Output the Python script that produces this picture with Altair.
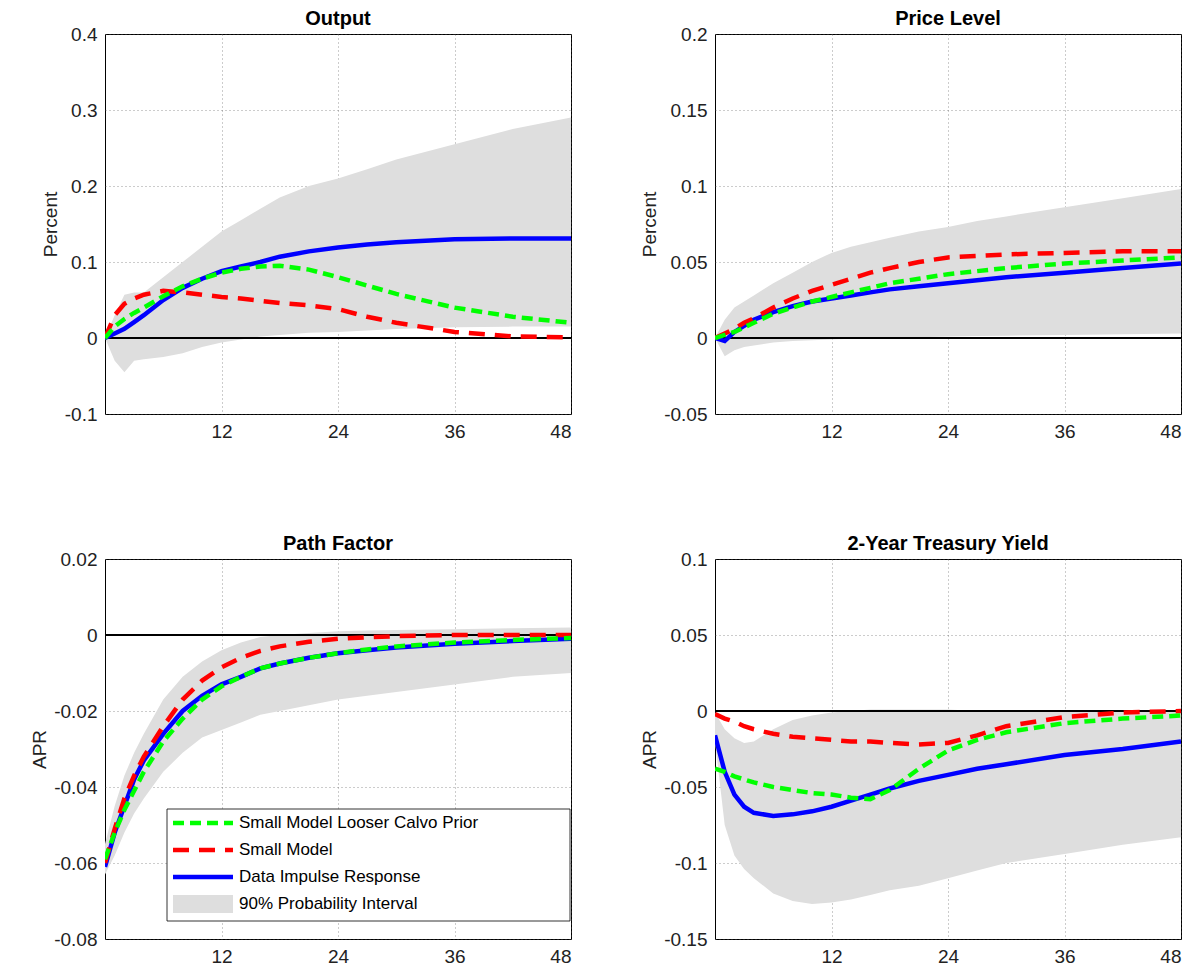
import pandas as pd
import altair as alt

X = [0, 1, 2, 3, 4, 6, 8, 10, 12, 14, 16, 18, 21, 24, 27, 30, 36, 42, 48]

out_blue = [0, .006, .012, .021, .03, .05, .066, .078, .088, .094, .1, .107, .114, .119, .123, .126, .13, .131, .131]
out_green = [0, .015, .025, .033, .04, .055, .068, .078, .086, .091, .094, .095, .09, .08, .069, .058, .04, .028, .02]
out_red = [0, .03, .045, .052, .057, .062, .06, .057, .054, .052, .049, .046, .043, .038, .028, .02, .008, .002, .001]
out_up = [0, .03, .057, .06, .06, .08, .1, .12, .14, .155, .17, .185, .2, .21, .222, .235, .255, .275, .29]
out_lo = [0, -.03, -.045, -.03, -.028, -.025, -.02, -.012, -.006, -.002, .002, .004, .007, .008, .01, .012, .014, .015, .015]

pl_blue = [0, -.002, .004, .008, .012, .017, .021, .024, .026, .028, .030, .032, .034, .036, .038, .04, .043, .046, .049]
pl_green = [0, .002, .004, .007, .01, .016, .02, .024, .027, .030, .033, .036, .039, .042, .044, .046, .049, .051, .053]
pl_red = [0, .003, .006, .01, .013, .02, .026, .031, .035, .039, .043, .046, .05, .053, .054, .055, .056, .057, .057]
pl_up = [0, .012, .02, .024, .028, .036, .043, .05, .056, .060, .063, .066, .07, .073, .077, .08, .086, .092, .098]
pl_lo = [0, -.012, -.008, -.006, -.005, -.003, -.002, -.0015, -.001, -.0005, 0, 0, .0005, .001, .0013, .0015, .002, .0025, .003]

pf_blue = [-.061, -.052, -.045, -.038, -.033, -.026, -.02, -.016, -.013, -.011, -.0088, -.0075, -.006, -.0048, -.004, -.0033, -.0023, -.0016, -.001]
pf_green = [-.059, -.052, -.046, -.041, -.036, -.028, -.022, -.017, -.0135, -.011, -.0088, -.0075, -.006, -.0048, -.0038, -.003, -.002, -.0013, -.0008]
pf_red = [-.06, -.051, -.043, -.037, -.032, -.024, -.017, -.012, -.0085, -.006, -.0042, -.003, -.0018, -.001, -.0006, -.0003, 0, 0, 0]
pf_up = [-.055, -.045, -.037, -.031, -.026, -.017, -.011, -.007, -.004, -.002, -.0005, 0, .0005, .001, .0012, .0013, .0015, .0018, .002]
pf_lo = [-.063, -.058, -.052, -.047, -.043, -.036, -.031, -.027, -.025, -.023, -.021, -.02, -.0185, -.017, -.016, -.015, -.013, -.011, -.01]

ty_blue = [-.016, -.04, -.055, -.063, -.067, -.069, -.068, -.066, -.063, -.059, -.055, -.051, -.046, -.042, -.038, -.035, -.029, -.025, -.02]
ty_green = [-.038, -.04, -.043, -.045, -.047, -.05, -.052, -.054, -.055, -.057, -.058, -.052, -.038, -.026, -.019, -.014, -.008, -.005, -.003]
ty_red = [-.002, -.005, -.007, -.01, -.012, -.015, -.017, -.018, -.019, -.02, -.02, -.021, -.022, -.021, -.016, -.01, -.004, -.001, 0]
ty_up = [-.001, -.012, -.018, -.021, -.02, -.012, -.006, -.003, -.001, 0, .001, .001, .001, .001, 0, 0, 0, 0, 0]
ty_lo = [-.02, -.075, -.095, -.104, -.11, -.12, -.125, -.127, -.126, -.124, -.121, -.118, -.115, -.11, -.105, -.1, -.094, -.088, -.083]

legend_labels = ["Small Model Looser Calvo Prior", "Small Model", "Data Impulse Response", "90% Probability Interval"]

FONT = "Liberation Sans"
W, H = 466, 380


def panel(title, ytitle, blue, green, red, up, lo, ydom, yticks, fmt, legend=False):
    df = pd.DataFrame({"x": X, "blue": blue, "green": green, "red": red, "up": up, "lo": lo})
    xs = alt.X("x:Q", scale=alt.Scale(domain=[0, 48], nice=False),
               axis=alt.Axis(values=[12, 24, 36, 48], title=None))
    ys = alt.Scale(domain=ydom, nice=False)
    yaxis = alt.Axis(values=yticks, format=fmt, title=ytitle,
                     labelExpr="replace(datum.label, '\u2212', '-')")
    base = alt.Chart(df)
    band = base.mark_area(color="#dedede", clip=True).encode(
        x=xs, y=alt.Y("lo:Q", scale=ys, axis=yaxis), y2="up:Q")
    zero = base.mark_rule(color="black", strokeWidth=0.6).encode(y=alt.datum(0))
    lb = base.mark_line(color="#0000ff", strokeWidth=4.5, clip=True).encode(x="x:Q", y="blue:Q")
    lr = base.mark_line(color="#ff0000", strokeWidth=4.5, strokeDash=[16, 10], clip=True).encode(x="x:Q", y="red:Q")
    lg = base.mark_line(color="#00ff00", strokeWidth=4.5, strokeDash=[11, 6], clip=True).encode(x="x:Q", y="green:Q")
    layers = [band, zero, lb, lr, lg]
    if legend:
        ldf = pd.DataFrame({"label": legend_labels, "i": [0, 1, 2, 3]})
        lb_ = alt.Chart(ldf)
        items = [lb_.transform_filter(alt.datum.i == 0).mark_rect(
            fill="white", stroke="black", strokeWidth=0.8).encode(
            x=alt.value(62), x2=alt.value(465), y=alt.value(250), y2=alt.value(362))]
        cols = ["#00ff00", "#ff0000", "#0000ff"]
        dashes = [[11, 6], [16, 10], [1, 0]]
        for i in range(4):
            sub = lb_.transform_filter(alt.datum.i == i)
            yy = 264 + 27 * i
            if i < 3:
                items.append(sub.mark_rule(color=cols[i], strokeWidth=4.5, strokeDash=dashes[i]).encode(
                    x=alt.value(68), x2=alt.value(128), y=alt.value(yy)))
            else:
                items.append(sub.mark_rect(color="#dedede").encode(
                    x=alt.value(68), x2=alt.value(128), y=alt.value(yy - 9), y2=alt.value(yy + 9)))
            items.append(sub.mark_text(align="left", baseline="middle", font=FONT, fontSize=17).encode(
                x=alt.value(134), y=alt.value(yy), text="label:N"))
        layers += items
    return alt.layer(*layers).properties(
        width=W, height=H,
        title=alt.TitleParams(title, font=FONT, fontSize=20, fontWeight="bold", offset=-4))


p1 = panel("Output", "Percent", out_blue, out_green, out_red, out_up, out_lo,
           [-0.1, 0.4], [-0.1, 0, 0.1, 0.2, 0.3, 0.4], ".1~f")
p2 = panel("Price Level", "Percent", pl_blue, pl_green, pl_red, pl_up, pl_lo,
           [-0.05, 0.2], [-0.05, 0, 0.05, 0.1, 0.15, 0.2], ".2~f")
p3 = panel("Path Factor", "APR", pf_blue, pf_green, pf_red, pf_up, pf_lo,
           [-0.08, 0.02], [-0.08, -0.06, -0.04, -0.02, 0, 0.02], ".2~f", legend=True)
p4 = panel("2-Year Treasury Yield", "APR", ty_blue, ty_green, ty_red, ty_up, ty_lo,
           [-0.15, 0.1], [-0.15, -0.1, -0.05, 0, 0.05, 0.1], ".2~f")

chart = alt.vconcat(
    alt.hconcat(p1, p2, spacing=68),
    alt.hconcat(p3, p4, spacing=68),
    spacing=91,
).properties(
    padding={"left": 22, "top": 0, "right": 0, "bottom": 0}
).configure_view(stroke="black", strokeWidth=1).configure_axis(
    grid=True, gridDash=[1, 3], gridColor="#555", gridOpacity=0.6,
    labelFont=FONT, labelFontSize=19, labelColor="#222", titleFont=FONT, titleFontSize=19,
    titleFontWeight="normal", titleColor="#222", domain=False, ticks=False, labelPadding=8,
)

chart.save("out.html", embed_options={"renderer": "svg", "actions": False})
